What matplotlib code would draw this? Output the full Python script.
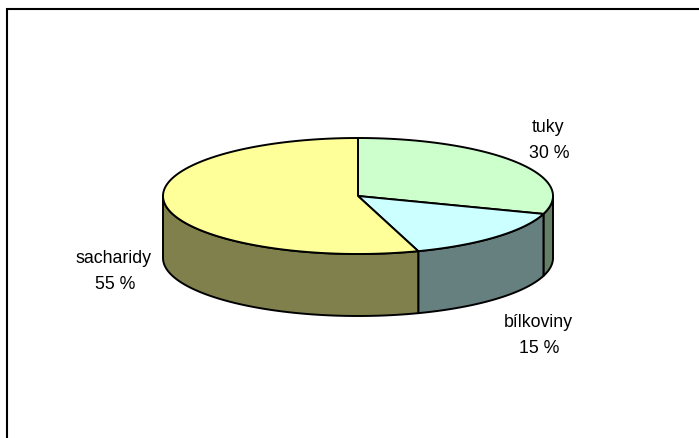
import numpy as np
import matplotlib
matplotlib.use("Agg")
import matplotlib.pyplot as plt
from matplotlib.patches import Polygon

# Nutrient shares (percent)
labels = ["tuky", "bílkoviny", "sacharidy"]
values = [30, 15, 55]
top_colors = ["#CCFFCC", "#CCFFFF", "#FFFF99"]
side_colors = ["#668066", "#668080", "#80804D"]

plt.rcParams["font.family"] = ["Liberation Sans", "DejaVu Sans"]

W, H = 699, 439
fig = plt.figure(figsize=(W / 100, H / 100), dpi=100)
ax = fig.add_axes([0, 0, 1, 1])
ax.set_xlim(0, W)
ax.set_ylim(H, 0)
ax.axis("off")

# Pie geometry in pixel units (screen y grows downward)
cx, cy, rx, ry, depth = 358, 197, 195, 58, 62
lw = 1.4


def pt(theta, dy=0.0):
    return cx + rx * np.cos(theta), cy - ry * np.sin(theta) + dy


# Slices run clockwise starting at 12 o'clock
total = float(sum(values))
bounds = [np.pi / 2]
for v in values:
    bounds.append(bounds[-1] - 2 * np.pi * v / total)

# Side walls: only the front half (sin(theta) < 0) is visible
for i in range(len(values)):
    a0, a1 = bounds[i], bounds[i + 1]  # a0 > a1
    segs = []
    for shift in (0, -2 * np.pi, 2 * np.pi):
        lo = max(a1 + shift, -np.pi)
        hi = min(a0 + shift, 0.0)
        if hi > lo:
            segs.append((lo, hi))
    for lo, hi in segs:
        t = np.linspace(hi, lo, 120)
        xs, ys = pt(t)
        xb, yb = pt(t[::-1], depth)
        poly = np.column_stack([np.concatenate([xs, xb]), np.concatenate([ys, yb])])
        ax.add_patch(Polygon(poly, closed=True, facecolor=side_colors[i],
                             edgecolor="black", linewidth=lw, joinstyle="round",
                             zorder=2))

# Top faces
for i in range(len(values)):
    a0, a1 = bounds[i], bounds[i + 1]
    t = np.linspace(a0, a1, 200)
    xs, ys = pt(t)
    poly = np.column_stack([np.concatenate([[cx], xs]), np.concatenate([[cy], ys])])
    ax.add_patch(Polygon(poly, closed=True, facecolor=top_colors[i],
                         edgecolor="black", linewidth=lw, joinstyle="round",
                         zorder=3))

# Labels: name above, percentage below
label_pos = {
    "tuky": (548, 132),
    "bílkoviny": (538, 327),
    "sacharidy": (114, 263),
}
fs = 12.8
for name, v in zip(labels, values):
    x, y = label_pos[name]
    ax.text(x, y, name, ha="center", va="baseline", fontsize=fs, color="black")
    ax.text(x + 1, y + 26, f"{v} %", ha="center", va="baseline", fontsize=fs,
            color="black")

# Chart area border
ax.plot([7, 7, W], [H, 10, 10], color="black", linewidth=1.5,
        solid_joinstyle="miter", zorder=5)

fig.savefig("out.png", dpi=100)
